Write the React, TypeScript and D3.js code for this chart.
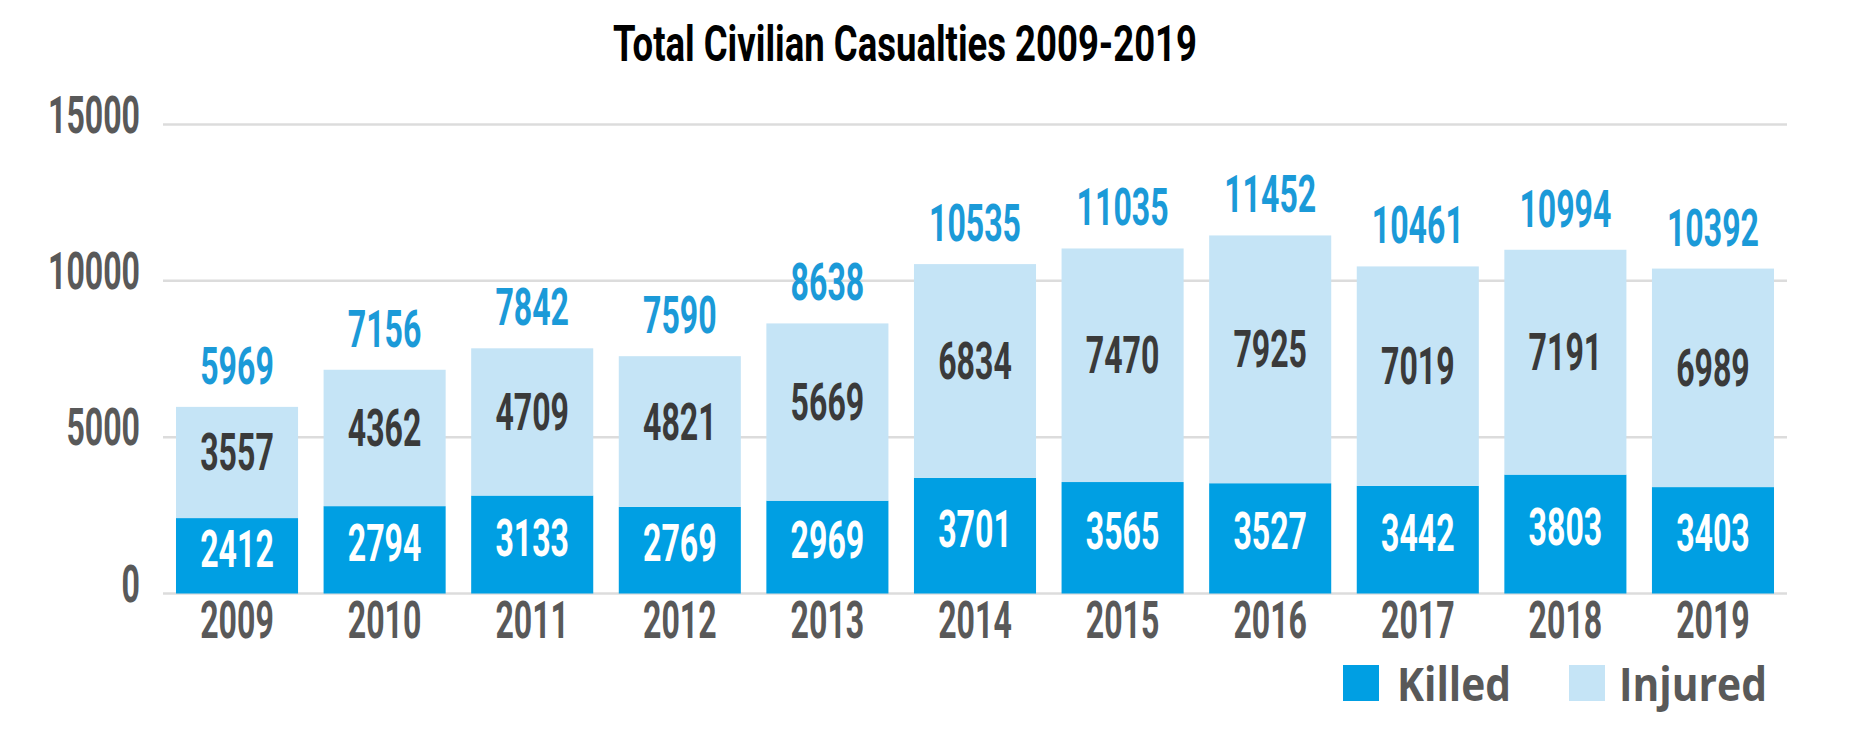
import React from "react";
import * as d3 from "d3";

const years = ["2009", "2010", "2011", "2012", "2013", "2014", "2015", "2016", "2017", "2018", "2019"];
const killed = [2412, 2794, 3133, 2769, 2969, 3701, 3565, 3527, 3442, 3803, 3403];
const injured = [3557, 4362, 4709, 4821, 5669, 6834, 7470, 7925, 7019, 7191, 6989];
const yTicks = [0, 5000, 10000, 15000];
const title = "Total Civilian Casualties 2009-2019";
const legendLabels = ["Killed", "Injured"];

const W = 1855;
const H = 756;
const KILLED_COLOR = "#009fe3";
const INJURED_COLOR = "#c5e4f6";
const TOTAL_COLOR = "#1b9ad8";
const AXIS_COLOR = "#595959";
const NUM_FONT = "Roboto, 'DejaVu Sans', sans-serif";
const DIGIT_W = 18.4;

export default function App() {
  const x = d3
    .scaleBand<string>()
    .domain(years)
    .range([163, 1787])
    .paddingInner(0.173)
    .paddingOuter(0.088);
  const y = d3.scaleLinear().domain([0, 15000]).range([593.5, 124.5]);

  const rows = years.map((yr, i) => ({
    year: yr,
    killed: killed[i],
    injured: injured[i],
    total: killed[i] + injured[i],
  }));
  const stack = d3.stack<any>().keys(["killed", "injured"])(rows as any);

  const num = (
    v: number,
    cx: number,
    baseline: number,
    fill: string,
    key: string,
    anchor: string = "middle"
  ) => (
    <text
      key={key}
      x={cx}
      y={baseline}
      fill={fill}
      fontFamily={NUM_FONT}
      fontWeight={700}
      fontSize={51}
      textAnchor={anchor}
      textLength={String(v).length * DIGIT_W}
      lengthAdjust="spacingAndGlyphs"
    >
      {String(v)}
    </text>
  );

  return (
    <svg
      width={W}
      height={H}
      style={{ position: "absolute", left: 0, top: 0, background: "#fff" }}
    >
      <rect x={0} y={0} width={W} height={H} fill="#fff" />
      <text
        x={905}
        y={61}
        fill="#000"
        fontFamily={NUM_FONT}
        fontWeight={700}
        fontSize={50}
        textAnchor="middle"
        textLength={584}
        lengthAdjust="spacingAndGlyphs"
      >
        {title}
      </text>

      {yTicks.map((t) => (
        <g key={"g" + t}>
          <line
            x1={163}
            x2={1787}
            y1={y(t)}
            y2={y(t)}
            stroke="#dcdcdc"
            strokeWidth={2.5}
          />
          {num(t, 140, y(t) + 8, AXIS_COLOR, "t" + t, "end")}
        </g>
      ))}

      {stack.map((layer, li) =>
        layer.map((d: any, i: number) => (
          <rect
            key={`r${li}-${i}`}
            x={x(years[i])}
            width={x.bandwidth()}
            y={y(d[1])}
            height={y(d[0]) - y(d[1])}
            fill={li === 0 ? KILLED_COLOR : INJURED_COLOR}
          />
        ))
      )}

      {rows.map((r) => {
        const cx = (x(r.year) as number) + x.bandwidth() / 2;
        const kMid = (y(0) + y(r.killed)) / 2;
        const iMid = (y(r.killed) + y(r.total)) / 2;
        return (
          <g key={"l" + r.year}>
            {num(r.killed, cx, kMid + 18 - 7, "#ffffff", "k")}
            {num(r.injured, cx, iMid + 18 - 10, "#3a3a3a", "i")}
            {num(r.total, cx, y(r.total) - 23, TOTAL_COLOR, "s")}
            <text
              x={cx}
              y={638}
              fill={AXIS_COLOR}
              fontFamily={NUM_FONT}
              fontWeight={700}
              fontSize={51}
              textAnchor="middle"
              textLength={r.year.length * DIGIT_W}
              lengthAdjust="spacingAndGlyphs"
            >
              {r.year}
            </text>
          </g>
        );
      })}

      <rect x={1343} y={665} width={36} height={36} fill={KILLED_COLOR} />
      <text
        x={1397}
        y={701}
        fill={AXIS_COLOR}
        fontFamily="'Open Sans', 'Noto Sans', sans-serif"
        fontWeight={700}
        fontSize={46}
        textLength={114}
        lengthAdjust="spacingAndGlyphs"
      >
        {legendLabels[0]}
      </text>
      <rect x={1569} y={665} width={36} height={36} fill={INJURED_COLOR} />
      <text
        x={1619}
        y={701}
        fill={AXIS_COLOR}
        fontFamily="'Open Sans', 'Noto Sans', sans-serif"
        fontWeight={700}
        fontSize={46}
        textLength={148}
        lengthAdjust="spacingAndGlyphs"
      >
        {legendLabels[1]}
      </text>
    </svg>
  );
}
